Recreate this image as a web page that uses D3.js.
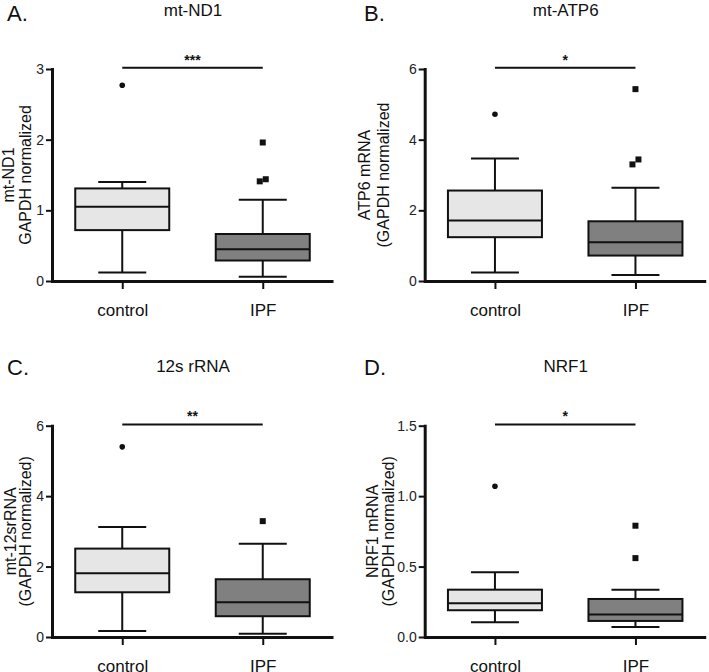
<!DOCTYPE html>
<html>
<head>
<meta charset="utf-8">
<script src="https://cdn.jsdelivr.net/npm/d3@7"></script>
<style>
  html, body { margin: 0; padding: 0; background: #fff; }
  svg { display: block; font-family: "Liberation Sans", Arial, Helvetica, sans-serif; }
</style>
</head>
<body>
<svg id="chart" width="709" height="672"></svg>
<script>
// ---- data ----
const panelLabels = ["A.", "B.", "C.", "D."];
const panelTitles = ["mt-ND1", "mt-ATP6", "12s rRNA", "NRF1"];
const yLabelLine1 = ["mt-ND1", "ATP6 mRNA", "mt-12srRNA", "NRF1 mRNA"];
const yLabelLine2 = ["GAPDH normalized", "(GAPDH normalized", "(GAPDH normalized)", "(GAPDH normalized)"];
const groups = ["control", "IPF"];
// [whisker low, Q1, median, Q3, whisker high]
const controlStats = [
  [0.12, 0.72, 1.05, 1.31, 1.40],
  [0.24, 1.24, 1.71, 2.56, 3.47],
  [0.17, 1.27, 1.81, 2.51, 3.12],
  [0.104, 0.19, 0.24, 0.336, 0.46]
];
const ipfStats = [
  [0.06, 0.29, 0.45, 0.665, 1.15],
  [0.17, 0.72, 1.10, 1.69, 2.64],
  [0.09, 0.59, 0.99, 1.64, 2.65],
  [0.071, 0.114, 0.16, 0.27, 0.336]
];
const controlOutliers = [[2.77], [4.72], [5.40], [1.07]];
const ipfOutliers = [[1.96, 1.41, 1.44], [5.43, 3.30, 3.44], [3.29], [0.79, 0.56]];
const yMax = [3, 6, 6, 1.5];
const yTicks = [[0, 1, 2, 3], [0, 2, 4, 6], [0, 2, 4, 6], [0, 0.5, 1.0, 1.5]];
const yTickFormat = ["d", "d", "d", ".1f"];
const sigLabels = ["***", "*", "**", "*"];

// ---- layout ----
const layout = [
  { ax: 52,    top: 69,    bottom: 281, labX: 7,   labY: 21,  titleY: 16,  yl: [-44, -27] },
  { ax: 424.7, top: 69,    bottom: 281, labX: 364, labY: 21,  titleY: 16,  yl: [-60, -41] },
  { ax: 52,    top: 425.7, bottom: 637, labX: 7,   labY: 375, titleY: 372, yl: [-42, -27] },
  { ax: 424.7, top: 425.7, bottom: 637, labX: 364, labY: 375, titleY: 372, yl: [-52, -36] }
];
const plotW = 281;
const boxW = 94;
const capW = 48;
const fills = ["#e6e6e6", "#808080"];
const ink = "#111";

const svg = d3.select("#chart");

panelLabels.forEach((lab, i) => {
  const L = layout[i];
  const g = svg.append("g");
  const x = d3.scalePoint().domain(groups).range([L.ax, L.ax + plotW]).padding(0.5);
  const y = d3.scaleLinear().domain([0, yMax[i]]).range([L.bottom, L.top]);

  // panel label + title
  g.append("text").attr("x", L.labX).attr("y", L.labY)
    .attr("font-size", 22).attr("fill", ink).text(lab);
  g.append("text").attr("x", L.ax + 141).attr("y", L.titleY)
    .attr("text-anchor", "middle").attr("font-size", 17).attr("fill", ink).text(panelTitles[i]);

  // y axis
  const yAxis = d3.axisLeft(y).tickValues(yTicks[i]).tickFormat(d3.format(yTickFormat[i]))
    .tickSize(6).tickSizeOuter(0).tickPadding(2);
  const ya = g.append("g").attr("transform", `translate(${L.ax},0)`).call(yAxis);
  ya.select(".domain").attr("stroke", ink).attr("stroke-width", 3).attr("stroke-linecap", "square");
  ya.selectAll(".tick line").attr("stroke", ink).attr("stroke-width", 2);
  ya.selectAll(".tick text").attr("font-size", 14).attr("fill", "#222")
    .attr("font-family", "Liberation Sans, Arial, sans-serif");

  // x axis
  const xAxis = d3.axisBottom(x).tickSize(8).tickSizeOuter(0).tickPadding(15);
  const xa = g.append("g").attr("transform", `translate(0,${L.bottom})`).call(xAxis);
  xa.select(".domain").attr("stroke", ink).attr("stroke-width", 3);
  xa.selectAll(".tick line").attr("stroke", ink).attr("stroke-width", 2);
  xa.selectAll(".tick text").attr("font-size", 17).attr("fill", ink)
    .attr("font-family", "Liberation Sans, Arial, sans-serif");

  // y label (two lines, rotated)
  const cy = (L.top + L.bottom) / 2;
  [yLabelLine1[i], yLabelLine2[i]].forEach((t, k) => {
    g.append("text")
      .attr("transform", `translate(${L.ax + L.yl[k]},${cy}) rotate(-90)`)
      .attr("text-anchor", "middle").attr("dominant-baseline", "central")
      .attr("font-size", 16).attr("fill", ink).text(t);
  });

  // boxes
  const statsList = [controlStats[i], ipfStats[i]];
  const outList = [controlOutliers[i], ipfOutliers[i]];
  groups.forEach((grp, j) => {
    const s = statsList[j];
    const cx = x(grp);
    const bg = g.append("g");
    // whiskers
    bg.append("line").attr("x1", cx).attr("x2", cx).attr("y1", y(s[0])).attr("y2", y(s[1]))
      .attr("stroke", ink).attr("stroke-width", 2);
    bg.append("line").attr("x1", cx).attr("x2", cx).attr("y1", y(s[3])).attr("y2", y(s[4]))
      .attr("stroke", ink).attr("stroke-width", 2);
    [s[0], s[4]].forEach(v => {
      bg.append("line").attr("x1", cx - capW / 2).attr("x2", cx + capW / 2)
        .attr("y1", y(v)).attr("y2", y(v)).attr("stroke", ink).attr("stroke-width", 2);
    });
    // box
    bg.append("rect").attr("x", cx - boxW / 2).attr("width", boxW)
      .attr("y", y(s[3])).attr("height", y(s[1]) - y(s[3]))
      .attr("fill", fills[j]).attr("stroke", ink).attr("stroke-width", 2);
    bg.append("line").attr("x1", cx - boxW / 2).attr("x2", cx + boxW / 2)
      .attr("y1", y(s[2])).attr("y2", y(s[2])).attr("stroke", ink).attr("stroke-width", 2);

    // outliers with small horizontal nudge for near-overlaps
    const pts = outList[j].slice().sort((a, b) => a - b).map(v => ({ v, dx: 0 }));
    for (let k = 1; k < pts.length; k++) {
      if (Math.abs(y(pts[k].v) - y(pts[k - 1].v)) < 7) {
        pts[k - 1].dx = -3; pts[k].dx = 3;
      }
    }
    pts.forEach(p => {
      if (j === 0) {
        bg.append("circle").attr("cx", cx + p.dx).attr("cy", y(p.v)).attr("r", 2.8).attr("fill", ink);
      } else {
        bg.append("rect").attr("x", cx + p.dx - 3).attr("y", y(p.v) - 3)
          .attr("width", 6).attr("height", 6).attr("fill", ink);
      }
    });
  });

  // significance bar
  const sy = L.top - 1.3;
  g.append("line").attr("x1", x("control")).attr("x2", x("IPF"))
    .attr("y1", sy).attr("y2", sy).attr("stroke", ink).attr("stroke-width", 2);
  g.append("text").attr("x", (x("control") + x("IPF")) / 2).attr("y", sy - 3)
    .attr("text-anchor", "middle").attr("font-size", 14).attr("font-weight", "bold")
    .attr("fill", ink).text(sigLabels[i]);
});
</script>
</body>
</html>
